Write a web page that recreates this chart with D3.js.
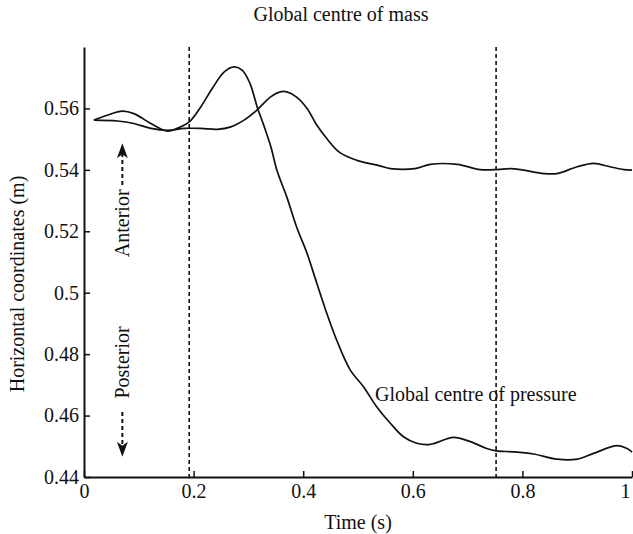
<!DOCTYPE html>
<html lang="en">
<head>
    <meta charset="utf-8">
    <title>Global centre of mass</title>
    <style>
    html, body {
        margin: 0;
        padding: 0;
        background-color: #fff;
    }
    svg text {
        font-family: "Liberation Serif", "Times New Roman", serif;
        font-size: 20px;
        fill: #111;
    }
    .axis path, .axis line {
        stroke: #111;
    }
    .axis path {
        stroke-width: 2;
    }
    .axis line {
        stroke-width: 1.5;
    }
    .curve {
        fill: none;
        stroke: #111;
        stroke-width: 1.7;
    }
    .event {
        stroke: #111;
        stroke-width: 1.6;
        stroke-dasharray: 4, 3;
    }
    </style>
</head>
<body>
    <div id="Graph"></div>
    <script src="https://d3js.org/d3.v7.min.js"></script>
    <script>
    // chart values
    var xTicks = [0, 0.2, 0.4, 0.6, 0.8, 1];
    var yTicks = [0.44, 0.46, 0.48, 0.5, 0.52, 0.54, 0.56];
    var events = [0.192, 0.752];

    // global centre of pressure
    var copTime = [0.018, 0.0425, 0.07, 0.091, 0.122, 0.152, 0.17, 0.192, 0.213, 0.234, 0.256, 0.274,
        0.289, 0.303, 0.316, 0.329, 0.341, 0.352, 0.37, 0.388, 0.407, 0.425, 0.443, 0.461, 0.486,
        0.51, 0.534, 0.559, 0.583, 0.607, 0.632, 0.674, 0.705, 0.735, 0.752, 0.784, 0.82, 0.863,
        0.9, 0.93, 0.973, 0.991, 1.0];
    var cop = [0.5562, 0.5578, 0.5591, 0.5583, 0.5551, 0.5526, 0.5535, 0.5556, 0.5605, 0.5665, 0.5719, 0.5735,
        0.5724, 0.5681, 0.5605, 0.554, 0.5475, 0.5399, 0.5312, 0.5214, 0.5128, 0.503, 0.4933, 0.4846, 0.4748,
        0.4694, 0.4629, 0.4575, 0.4531, 0.451, 0.4506, 0.4529, 0.4515, 0.4493, 0.4485, 0.4482, 0.4475, 0.4458,
        0.4458, 0.4477, 0.4502, 0.4493, 0.4481];

    // global centre of mass
    var comTime = [0.018, 0.061, 0.091, 0.122, 0.152, 0.183, 0.213, 0.243, 0.268, 0.292, 0.315, 0.34,
        0.358, 0.37, 0.388, 0.407, 0.425, 0.443, 0.467, 0.498, 0.54, 0.559, 0.604, 0.632, 0.681, 0.723,
        0.754, 0.778, 0.802, 0.839, 0.863, 0.9, 0.93, 0.96, 0.985, 1.0];
    var com = [0.5562, 0.5559, 0.5551, 0.5535, 0.5529, 0.5535, 0.5535, 0.5532, 0.554, 0.5562, 0.5594, 0.5637,
        0.5654, 0.5654, 0.5637, 0.56, 0.5545, 0.5502, 0.5456, 0.5431, 0.5413, 0.5404, 0.5404, 0.5418, 0.5418, 0.5401,
        0.5401, 0.5404, 0.5399, 0.5388, 0.5388, 0.541, 0.5421, 0.541, 0.5401, 0.5399];

    var w = 633;
    var h = 534;
    var mar = {top: 47, right: 1, bottom: 57, left: 84};

    var x = d3.scaleLinear().domain([0, 1]).range([mar.left, w - mar.right]);
    var y = d3.scaleLinear().domain([0.44, 0.58]).range([h - mar.bottom, mar.top]);

    var svg = d3.select("#Graph").append("svg")
        .attr("width", w)
        .attr("height", h);

    // title
    svg.append("text")
        .attr("x", 341)
        .attr("y", 21)
        .attr("text-anchor", "middle")
        .text("Global centre of mass");

    // event markers
    svg.selectAll(".event")
        .data(events)
        .enter()
        .append("line")
        .attr("class", "event")
        .attr("x1", function(d) { return x(d); })
        .attr("x2", function(d) { return x(d); })
        .attr("y1", y(0.58))
        .attr("y2", y(0.44));

    // axes, ticks pointing inwards
    var xAxis = svg.append("g")
        .attr("class", "axis")
        .attr("transform", "translate(0," + y(0.44) + ")")
        .call(d3.axisBottom(x).tickValues(xTicks).tickFormat(d3.format("")).tickSizeInner(-6).tickSizeOuter(0).tickPadding(7));

    // last label sits on the right edge, keep it inside the page
    xAxis.selectAll(".tick text")
        .filter(function(d) { return d === 1; })
        .attr("text-anchor", "end")
        .attr("dx", "-0.1em");

    svg.append("g")
        .attr("class", "axis")
        .attr("transform", "translate(" + x(0) + ",0)")
        .call(d3.axisLeft(y).tickValues(yTicks).tickFormat(d3.format("")).tickSizeInner(-6).tickSizeOuter(0).tickPadding(5));

    svg.selectAll(".axis text")
        .attr("fill", "#111")
        .style("font-size", "20px")
        .style("font-family", "'Liberation Serif', 'Times New Roman', serif");

    // curves
    var line = d3.line()
        .x(function(d) { return x(d[0]); })
        .y(function(d) { return y(d[1]); })
        .curve(d3.curveCatmullRom);

    svg.append("path")
        .attr("class", "curve")
        .attr("d", line(d3.zip(copTime, cop)));

    svg.append("path")
        .attr("class", "curve")
        .attr("d", line(d3.zip(comTime, com)));

    svg.append("text")
        .attr("x", x(0.531))
        .attr("y", y(0.4646))
        .text("Global centre of pressure");

    // axis labels
    svg.append("text")
        .attr("x", (x(0) + x(1)) / 2)
        .attr("y", 529)
        .attr("text-anchor", "middle")
        .text("Time (s)");

    svg.append("text")
        .attr("transform", "translate(24," + 284 + ") rotate(-90)")
        .attr("text-anchor", "middle")
        .text("Horizontal coordinates (m)");

    // anterior / posterior arrows
    var ax = x(0.07);
    function arrow(tip, dir) {
        // dir -1 points up, 1 points down
        var b = tip - dir * 15;
        return "M" + ax + "," + tip + "L" + (ax - 5.5) + "," + b + "L" + ax + "," + (b + dir * 4) +
            "L" + (ax + 5.5) + "," + b + "Z";
    }

    svg.append("line")
        .attr("class", "event")
        .style("stroke-width", 2)
        .attr("x1", ax).attr("x2", ax)
        .attr("y1", y(0.5455)).attr("y2", y(0.5344));
    svg.append("path")
        .attr("d", arrow(y(0.5487), -1))
        .attr("fill", "#111");
    svg.append("text")
        .attr("transform", "translate(" + (ax + 7) + "," + y(0.5226) + ") rotate(-90)")
        .attr("text-anchor", "middle")
        .text("Anterior");

    svg.append("line")
        .attr("class", "event")
        .style("stroke-width", 2)
        .attr("x1", ax).attr("x2", ax)
        .attr("y1", y(0.4612)).attr("y2", y(0.4498));
    svg.append("path")
        .attr("d", arrow(y(0.4466), 1))
        .attr("fill", "#111");
    svg.append("text")
        .attr("transform", "translate(" + (ax + 7) + "," + y(0.4773) + ") rotate(-90)")
        .attr("text-anchor", "middle")
        .text("Posterior");
    </script>
</body>
</html>
